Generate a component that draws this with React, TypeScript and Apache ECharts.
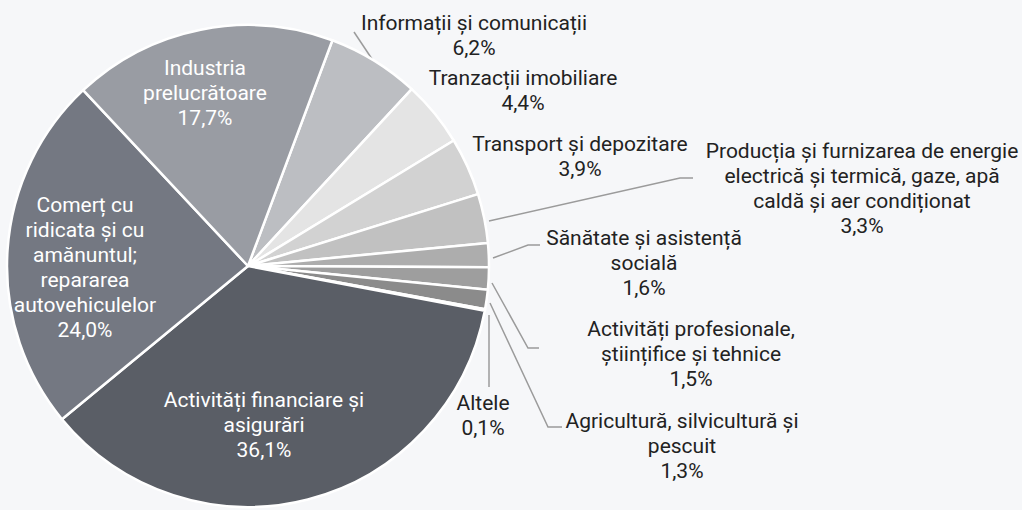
import React, { useEffect, useRef } from "react";
import * as echarts from "echarts";

const categories = [
  "Informații și comunicații",
  "Tranzacții imobiliare",
  "Transport și depozitare",
  "Producția și furnizarea de energie electrică și termică, gaze, apă caldă și aer condiționat",
  "Sănătate și asistență socială",
  "Activități profesionale, științifice și tehnice",
  "Agricultură, silvicultură și pescuit",
  "Altele",
  "Activități financiare și asigurări",
  "Comerț cu ridicata și cu amănuntul; repararea autovehiculelor",
  "Industria prelucrătoare",
];
const values = [6.2, 4.4, 3.9, 3.3, 1.6, 1.5, 1.3, 0.1, 36.1, 24.0, 17.7];

// display line-breaking of category names
const wrapped = [
  "Informații și comunicații",
  "Tranzacții imobiliare",
  "Transport și depozitare",
  "Producția și furnizarea de energie\nelectrică și termică, gaze, apă\ncaldă și aer condiționat",
  "Sănătate și asistență\nsocială",
  "Activități profesionale,\nștiințifice și tehnice",
  "Agricultură, silvicultură și\npescuit",
  "Altele",
  "Activități financiare și\nasigurări",
  "Comerț cu\nridicata și cu\namănuntul;\nrepararea\nautovehiculelor",
  "Industria\nprelucrătoare",
];
const colors = [
  "#bcbec2", "#e4e4e4", "#d2d2d2", "#c1c1c1", "#adadad", "#9e9e9e",
  "#8b8b8b", "#7a7a7a", "#5a5e66", "#747882", "#999ca3",
];
const inside = [false, false, false, false, false, false, false, false, true, true, true];
const showLine = [true, false, false, true, true, true, true, true, false, false, false];

// label placement (layout, px)
const labelPos: number[][] = [
  [474, 35], [523, 90], [580, 156], [862, 188], [644, 263], [691, 354],
  [682, 446], [483, 415], [264, 425], [85, 267], [205, 93],
];
const linePts: (number[][] | null)[] = [
  [[374, 62], [354, 32], [354, 32]],
  null,
  null,
  [[489, 221], [680, 178], [693, 178]],
  [[493, 258], [528, 245], [540, 245]],
  [[492, 283], [528, 348], [539, 348]],
  [[490, 303], [548, 427], [562, 427]],
  [[489, 315], [489, 387], [489, 387]],
  null,
  null,
  null,
];

const fmt = (v: number) => v.toFixed(1).replace(".", ",") + "%";

export default function App() {
  const ref = useRef<HTMLDivElement>(null);
  useEffect(() => {
    if (!ref.current) return;
    const chart = echarts.init(ref.current, null, { renderer: "svg" });
    const data = categories.map((name, i) => ({
      name,
      value: values[i],
      itemStyle: { color: colors[i] },
      label: {
        color: inside[i] ? "#ffffff" : "#222222",
        formatter: wrapped[i] + "\n" + fmt(values[i]),
      },
      labelLine: { show: showLine[i] },
    }));
    chart.setOption({
      animation: false,
      backgroundColor: "#f6f7f9",
      series: [
        {
          type: "pie",
          center: [248, 266],
          radius: [0, 241],
          startAngle: 69.5,
          clockwise: true,
          avoidLabelOverlap: false,
          itemStyle: { borderColor: "#ffffff", borderWidth: 2.5 },
          label: {
            show: true,
            position: "outside",
            fontFamily: "Roboto",
            fontSize: 21,
            lineHeight: 25,
            align: "center",
          },
          labelLine: {
            show: true,
            length: 10,
            length2: 10,
            lineStyle: { color: "#9b9b9b", width: 1.5 },
          },
          emphasis: { disabled: true },
          labelLayout: (params: any) => {
            const i = params.dataIndex;
            const p = labelPos[i];
            const res: any = { x: p[0], y: p[1], align: "center", verticalAlign: "middle" };
            if (linePts[i]) res.labelLinePoints = linePts[i];
            return res;
          },
          data,
        },
      ],
    });
    return () => chart.dispose();
  }, []);
  return (
    <div
      ref={ref}
      style={{ position: "fixed", left: 0, top: 0, width: 1022, height: 510, background: "#f6f7f9" }}
    />
  );
}
